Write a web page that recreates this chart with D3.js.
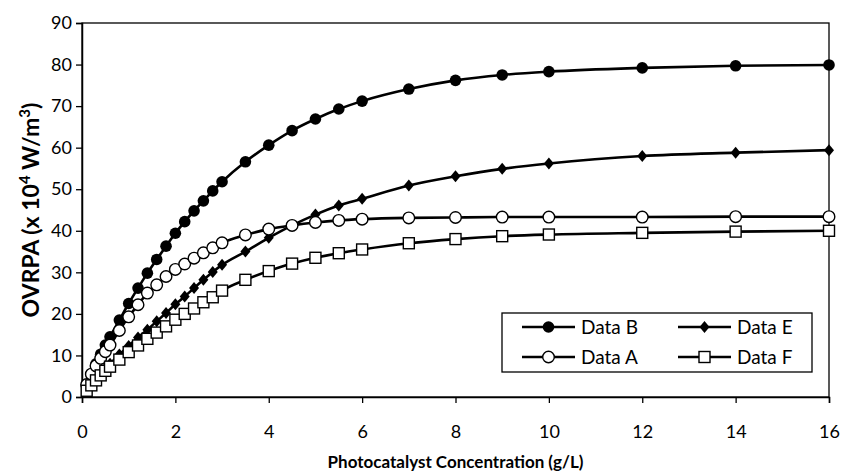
<!DOCTYPE html>
<html>
<head>
<meta charset="utf-8">
<script src="https://cdn.jsdelivr.net/npm/d3@7"></script>
<style>
  body { margin: 0; background: #fff; }
  svg text { font-family: Lato, "Open Sans", sans-serif; fill: #000; }
</style>
</head>
<body>
<svg id="chart"></svg>
<script>
// ── Data ─────────────────────────────────────────────────────────────────
const conc = [0.1, 0.2, 0.3, 0.4, 0.5, 0.6, 0.8, 1.0, 1.2, 1.4, 1.6, 1.8, 2.0, 2.2, 2.4, 2.6, 2.8, 3.0,
              3.5, 4, 4.5, 5, 5.5, 6, 7, 8, 9, 10, 12, 14, 16];

const dataB = [3, 5.5, 8, 10.3, 12.5, 14.5, 18.5, 22.5, 26.2, 29.8, 33.1, 36.3, 39.4, 42.2, 44.8, 47.2, 49.6, 51.8,
               56.6, 60.6, 64.1, 66.9, 69.3, 71.2, 74.1, 76.2, 77.5, 78.3, 79.2, 79.7, 79.9];
const dataE = [1.8, 3.2, 4.5, 5.8, 6.9, 8, 10.2, 12.3, 14.3, 16.2, 18.2, 20.2, 22.3, 24.2, 26.2, 28.2, 30.1, 31.8,
               35, 38.3, 41.3, 43.9, 46.1, 47.7, 50.9, 53.1, 54.9, 56.2, 58, 58.8, 59.4];
const dataA = [3, 5.5, 7.5, 9.3, 10.9, 12.5, 16, 19.3, 22.2, 25, 27, 29, 30.7, 32, 33.4, 34.7, 35.9, 37.1,
               39, 40.4, 41.3, 42, 42.5, 42.8, 43.1, 43.2, 43.3, 43.3, 43.3, 43.4, 43.4];
const dataF = [1.5, 2.8, 4, 5.2, 6.3, 7.3, 9, 10.8, 12.4, 14, 15.5, 17, 18.6, 20, 21.3, 22.8, 24, 25.6,
               28.2, 30.3, 32.1, 33.5, 34.6, 35.5, 37, 38, 38.7, 39.1, 39.5, 39.8, 40];

const xTicks = [0, 2, 4, 6, 8, 10, 12, 14, 16];
const yTicks = [0, 10, 20, 30, 40, 50, 60, 70, 80, 90];

const series = [
    { name: "Data B", values: dataB, marker: "filledCircle" },
    { name: "Data E", values: dataE, marker: "diamond" },
    { name: "Data A", values: dataA, marker: "openCircle" },
    { name: "Data F", values: dataF, marker: "square" }
];

// ── Layout ───────────────────────────────────────────────────────────────
const W = 842, H = 472;
const margin = { top: 23, right: 13, bottom: 75, left: 82 };
const w = W - margin.left - margin.right;
const h = H - margin.top - margin.bottom;

const root = d3.select("#chart").attr("width", W).attr("height", H);
const svg = root.append("g").attr("transform", `translate(${margin.left},${margin.top})`);

const x = d3.scaleLinear().domain([0, 16]).range([0, w]);
const y = d3.scaleLinear().domain([0, 90]).range([h, 0]);

// ── Markers ──────────────────────────────────────────────────────────────
function drawMarker(g, type) {
    if (type === "filledCircle") {
        g.append("circle").attr("r", 5.8).attr("fill", "#000");
    } else if (type === "openCircle") {
        g.append("circle").attr("r", 5.8).attr("fill", "#fff")
            .attr("stroke", "#000").attr("stroke-width", 1.4);
    } else if (type === "diamond") {
        g.append("path").attr("d", "M0,-6L5,0L0,6L-5,0Z").attr("fill", "#000");
    } else if (type === "square") {
        g.append("rect").attr("x", -5.5).attr("y", -5.5).attr("width", 11).attr("height", 11)
            .attr("fill", "#fff").attr("stroke", "#000").attr("stroke-width", 1.4);
    }
}

// ── Plot frame ───────────────────────────────────────────────────────────
svg.append("rect")
    .attr("width", w).attr("height", h)
    .attr("fill", "none").attr("stroke", "#000").attr("stroke-width", 1.3);

// ── Axes ─────────────────────────────────────────────────────────────────
svg.append("g")
    .attr("transform", `translate(0,${h})`)
    .call(d3.axisBottom(x).tickValues(xTicks).tickSize(6).tickPadding(22).tickFormat(d3.format("d")))
    .call(g => g.select(".domain").attr("stroke-width", 1.5))
    .call(g => g.selectAll("line").attr("stroke-width", 1.3))
    .selectAll("text").attr("font-size", 18).attr("font-family", "Lato, sans-serif");

svg.append("g")
    .call(d3.axisLeft(y).tickValues(yTicks).tickSize(6).tickPadding(4))
    .call(g => g.select(".domain").attr("stroke-width", 1.5))
    .call(g => g.selectAll("line").attr("stroke-width", 1.3))
    .selectAll("text").attr("font-size", 18).attr("font-family", "Lato, sans-serif");

// ── Series ───────────────────────────────────────────────────────────────
const line = d3.line()
    .x(d => x(d[0]))
    .y(d => y(d[1]))
    .curve(d3.curveMonotoneX);

series.forEach(s => {
    const pts = conc.map((c, i) => [c, s.values[i]]);
    svg.append("path")
        .datum(pts)
        .attr("fill", "none")
        .attr("stroke", "#000")
        .attr("stroke-width", 2.6)
        .attr("stroke-linejoin", "round")
        .attr("d", line);

    svg.append("g").selectAll("g")
        .data(pts)
        .join("g")
        .attr("transform", d => `translate(${x(d[0])},${y(d[1])})`)
        .each(function() { drawMarker(d3.select(this), s.marker); });
});

// ── Legend ───────────────────────────────────────────────────────────────
const lx = 502 - margin.left, ly = 313 - margin.top;
const legend = svg.append("g").attr("transform", `translate(${lx},${ly})`);
legend.append("rect")
    .attr("width", 310).attr("height", 59)
    .attr("fill", "#fff").attr("stroke", "#000").attr("stroke-width", 1.3);

series.forEach((s, i) => {
    const col = i % 2, row = Math.floor(i / 2);
    const g = legend.append("g")
        .attr("transform", `translate(${20 + col * 156},${14 + row * 30})`);
    g.append("line").attr("x1", 0).attr("x2", 53)
        .attr("stroke", "#000").attr("stroke-width", 2.6);
    drawMarker(g.append("g").attr("transform", "translate(26.5,0)"), s.marker);
    g.append("text").attr("x", 59).attr("y", 6.5)
        .attr("font-size", 19).text(s.name);
});

// ── Axis titles ──────────────────────────────────────────────────────────
root.append("text")
    .attr("x", margin.left + w / 2)
    .attr("y", 468)
    .attr("text-anchor", "middle")
    .attr("font-size", 17).attr("font-weight", "bold")
    .text("Photocatalyst Concentration (g/L)");

const yt = root.append("text")
    .attr("transform", `translate(39,${margin.top + h / 2}) rotate(-90)`)
    .attr("text-anchor", "middle")
    .attr("font-size", 23).attr("font-weight", "bold");
yt.append("tspan").text("OVRPA (x 10");
yt.append("tspan").attr("dy", -9).attr("font-size", 15).text("4");
yt.append("tspan").attr("dy", 9).text(" W/m");
yt.append("tspan").attr("dy", -9).attr("font-size", 15).text("3");
yt.append("tspan").attr("dy", 9).text(")");
</script>
</body>
</html>
